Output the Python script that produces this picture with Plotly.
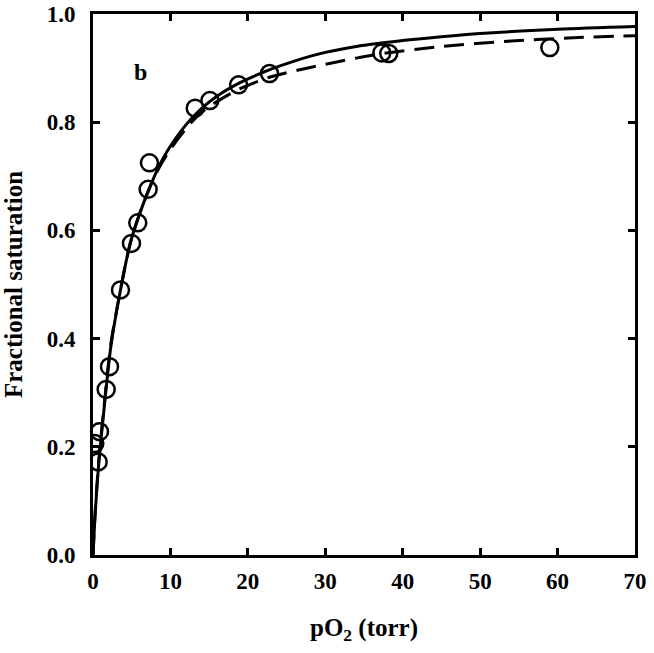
import plotly.graph_objects as go

# observed points
po2_obs = [0.23, 0.67, 0.84, 1.70, 2.13, 3.55, 4.97, 5.78, 7.12, 7.29, 13.2, 15.1, 18.8, 22.8, 37.3, 38.2, 59.0]
sat_obs = [0.206, 0.172, 0.228, 0.306, 0.348, 0.490, 0.576, 0.614, 0.676, 0.725, 0.826, 0.840, 0.869, 0.890, 0.928, 0.927, 0.938]

# solid fit curve
po2_fit1 = [0, 0.3, 0.75, 1.5, 2.3, 3.55, 4.84, 6, 7.2, 8.5, 9.7, 12, 14, 16, 19, 23, 26, 30, 34, 40, 45, 50, 60, 70]
sat_fit1 = [0, 0.08, 0.17, 0.28, 0.385, 0.49, 0.578, 0.63, 0.675, 0.718, 0.749, 0.795, 0.825, 0.848, 0.873, 0.898, 0.913, 0.929, 0.940, 0.951, 0.958, 0.964, 0.972, 0.977]

# dashed fit curve
po2_fit2 = [0, 0.3, 0.75, 1.5, 2.3, 3.55, 4.84, 6, 7.2, 8.5, 10, 12, 14, 16, 19, 23, 27, 31, 37, 45, 54, 62, 70]
sat_fit2 = [0, 0.085, 0.175, 0.285, 0.39, 0.49, 0.578, 0.63, 0.675, 0.715, 0.75, 0.788, 0.818, 0.838, 0.862, 0.884, 0.898, 0.910, 0.926, 0.940, 0.950, 0.956, 0.960]

font_family = "Liberation Serif"

fig = go.Figure()

fig.add_trace(go.Scatter(x=po2_fit1, y=sat_fit1, mode="lines",
                         line=dict(color="black", width=3, shape="spline", smoothing=0.8),
                         showlegend=False))
fig.add_trace(go.Scatter(x=po2_fit2, y=sat_fit2, mode="lines",
                         line=dict(color="black", width=3, dash="20px,10px", shape="spline", smoothing=0.8),
                         showlegend=False))
fig.add_trace(go.Scatter(x=po2_obs, y=sat_obs, mode="markers",
                         marker=dict(symbol="circle-open", size=17, color="black",
                                     line=dict(width=2.5, color="black")),
                         showlegend=False))

axis_common = dict(
    showgrid=False, zeroline=False, automargin=False,
    showline=True, linecolor="black", linewidth=3, mirror="ticks",
    ticks="inside", ticklen=7, tickwidth=3, tickcolor="black",
    tickfont=dict(family=font_family, size=23, color="black", weight="bold"),
)

fig.update_layout(
    width=654, height=653,
    margin=dict(l=93, r=19, t=14, b=98),
    paper_bgcolor="white", plot_bgcolor="white",
    font=dict(family=font_family, color="black"),
    xaxis=dict(range=[0, 70], tickvals=[0, 10, 20, 30, 40, 50, 60, 70],
               title=dict(text="<b>pO<sub>2</sub> (torr)</b>", standoff=26,
                          font=dict(family=font_family, size=25, color="black")),
               ticklabelstandoff=3, **axis_common),
    yaxis=dict(range=[0, 1.0], tickvals=[0, 0.2, 0.4, 0.6, 0.8, 1.0], tickformat=".1f",
               title=dict(text="<b>Fractional saturation</b>", standoff=18,
                          font=dict(family=font_family, size=25, color="black")),
               ticklabelstandoff=10, **axis_common),
    annotations=[dict(x=6.1, y=0.893, xref="x", yref="y", text="<b>b</b>", showarrow=False,
                      font=dict(family=font_family, size=24, color="black"))],
)

# page body margin off so the figure sits at the window's corner
fig.write_html("out.html", config={"displayModeBar": False},
               post_script="document.body.style.margin='0';")
